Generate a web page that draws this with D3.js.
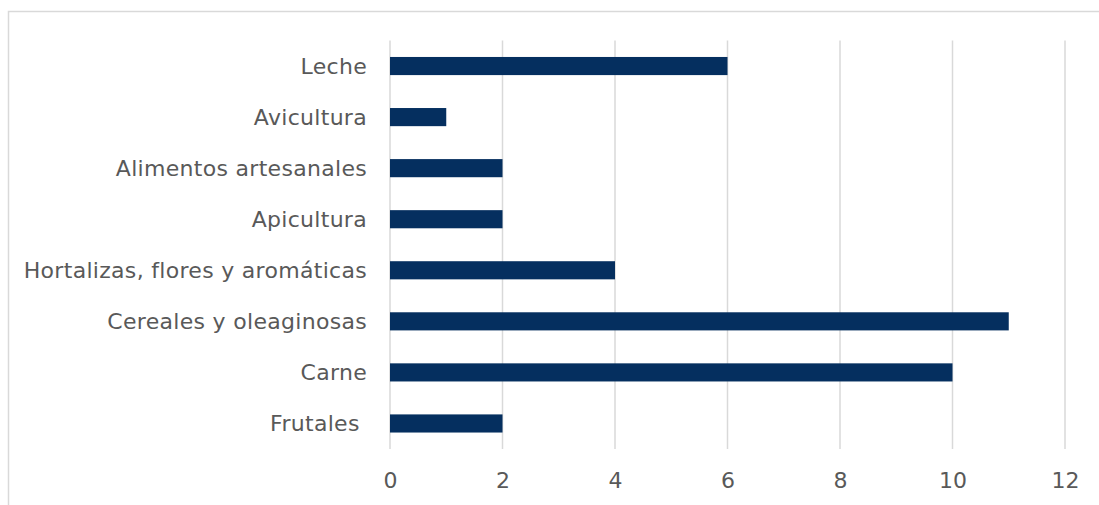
<!DOCTYPE html>
<html>
<head>
<meta charset="utf-8">
<script src="https://cdn.jsdelivr.net/npm/d3@7"></script>
<style>
  html, body { margin: 0; padding: 0; background: #fff; }
  svg { display: block; }
  text { font-family: "Century Gothic", "DejaVu Sans", sans-serif; fill: #595959; }
</style>
</head>
<body>
<svg id="chart" width="1099" height="505"></svg>
<script>
// Production sectors, listed top to bottom
const categories = [
  "Leche",
  "Avicultura",
  "Alimentos artesanales",
  "Apicultura",
  "Hortalizas, flores y aromáticas",
  "Cereales y oleaginosas",
  "Carne",
  "Frutales\u00a0"
];
const values = [6, 1, 2, 2, 4, 11, 10, 2];
const tickValues = [0, 2, 4, 6, 8, 10, 12];

const svg = d3.select("#chart");
const margin = { left: 390, right: 34, top: 40.5, bottom: 56 };
const W = 1099, H = 505;

// outer frame (runs off the right and bottom edges)
svg.append("rect")
  .attr("x", 8.5).attr("y", 11.5)
  .attr("width", W).attr("height", H)
  .attr("fill", "none").attr("stroke", "#d9d9d9").attr("stroke-width", 1.5);

const x = d3.scaleLinear().domain([0, 12]).range([margin.left, W - margin.right]);
const y = d3.scaleBand().domain(categories)
  .range([margin.top, H - margin.bottom])
  .paddingInner(0.645).paddingOuter(0.3225);

// vertical gridlines
svg.append("g")
  .selectAll("line")
  .data(tickValues)
  .join("line")
  .attr("x1", d => x(d)).attr("x2", d => x(d))
  .attr("y1", margin.top).attr("y2", H - margin.bottom)
  .attr("stroke", "#d9d9d9").attr("stroke-width", 1.5);

// bars
svg.append("g")
  .selectAll("rect")
  .data(values)
  .join("rect")
  .attr("x", x(0))
  .attr("y", (d, i) => y(categories[i]))
  .attr("width", d => x(d) - x(0))
  .attr("height", y.bandwidth())
  .attr("fill", "#052f5f");

// category axis labels
const yAxis = d3.axisLeft(y).tickSize(0).tickPadding(23);
const gy = svg.append("g").attr("transform", `translate(${x(0)},0)`).call(yAxis);
gy.select(".domain").remove();
gy.selectAll("text")
  .style("font-size", "22px")
  .style("letter-spacing", "0.3px")
  .style("white-space", "pre")
  .attr("dy", "0.35em")
  .attr("fill", "#595959");

// value axis labels
const xAxis = d3.axisBottom(x).tickValues(tickValues).tickSize(0).tickPadding(0).tickFormat(d3.format("d"));
const gx = svg.append("g").attr("transform", `translate(0,${H - margin.bottom})`).call(xAxis);
gx.select(".domain").remove();
gx.selectAll("text")
  .attr("y", 31)
  .attr("dy", "0.35em")
  .style("font-size", "22px")
  .attr("fill", "#595959");
</script>
</body>
</html>
